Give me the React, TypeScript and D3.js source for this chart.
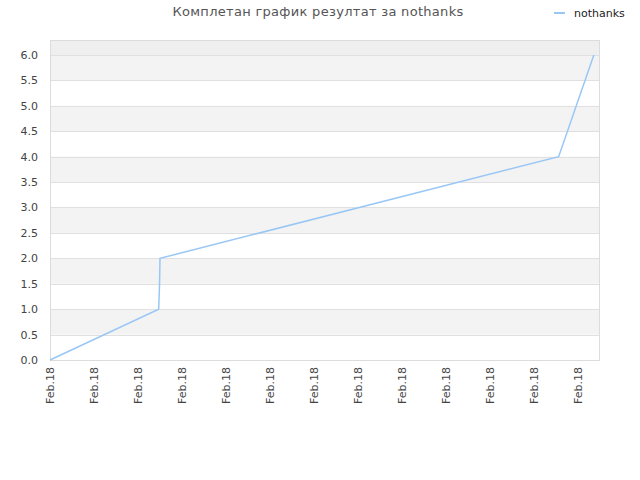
import React from "react";
import * as d3 from "d3";

const title = "Комплетан график резултат за nothanks";
const seriesName = "nothanks";
// hours after start (Feb 18)
const pointHours = [0, 2.47, 2.49, 2.5, 11.56, 12.36];
const pointValues = [0, 1, 1.5, 2, 4, 6];
const yTicks = [0, 0.5, 1, 1.5, 2, 2.5, 3, 3.5, 4, 4.5, 5, 5.5, 6];
const xTickCount = 13;
const xTickLabel = "Feb.18";

export default function App() {
  const W = 640, H = 480;
  const left = 50, right = 600, top = 40, bottom = 360;
  const start = new Date(2018, 1, 18, 6, 0, 0);
  const t = (h: number) => new Date(start.getTime() + h * 3600000);
  const x = d3.scaleTime().domain([t(0), t(12.5)]).range([left, right]);
  const y = d3.scaleLinear().domain([0, 6.295]).range([bottom, top]);
  const data = pointHours.map((h, i) => ({ d: t(h), v: pointValues[i] }));
  const line = d3.line<{ d: Date; v: number }>().x((p) => x(p.d)).y((p) => y(p.v));
  const xTicks = d3.range(xTickCount).map((i) => t(i));
  const font = "DejaVu Sans, sans-serif";
  const bands: { a: number; b: number; fill: string }[] = [];
  for (let v = 0; v < 6; v += 0.5) {
    const idx = Math.round(v / 0.5);
    if (idx % 2 === 1) bands.push({ a: v, b: v + 0.5, fill: "#f3f3f3" });
  }
  bands.push({ a: 6, b: 6.295, fill: "#efefef" });
  return (
    <svg width={W} height={H} style={{ position: "absolute", left: 0, top: 0, background: "#fff" }}>
      <rect x={0} y={0} width={W} height={H} fill="#fff" />
      <text x={318} y={16} textAnchor="middle" fontFamily={font} fontSize={13} letterSpacing={0.3} fill="#555">{title}</text>
      <line x1={554} x2={565} y1={13} y2={13} stroke="#99c7f5" strokeWidth={2} />
      <text x={574} y={17} fontFamily={font} fontSize={11} fill="#222">{seriesName}</text>
      {bands.map((b, i) => (
        <rect key={i} x={left} y={y(b.b)} width={right - left} height={y(b.a) - y(b.b)} fill={b.fill} />
      ))}
      {yTicks.map((v) => (
        <line key={"g" + v} x1={left} x2={right} y1={Math.round(y(v)) + 0.5} y2={Math.round(y(v)) + 0.5} stroke="#e0e0e0" strokeWidth={1} />
      ))}
      <rect x={left + 0.5} y={top + 0.5} width={right - left - 1} height={bottom - top} fill="none" stroke="#dcdcdc" strokeWidth={1} />
      {yTicks.map((v) => (
        <text key={"t" + v} x={38} y={y(v) + 4} textAnchor="end" fontFamily={font} fontSize={11} fill="#444">{d3.format(".1f")(v)}</text>
      ))}
      {xTicks.map((d, i) => (
        <text key={"x" + i} transform={`translate(${x(d) + 4},${367}) rotate(-90)`} textAnchor="end" fontFamily={font} fontSize={11} fill="#444">{xTickLabel}</text>
      ))}
      <path d={line(data) || ""} fill="none" stroke="#99c7f5" strokeWidth={1.5} />
    </svg>
  );
}
